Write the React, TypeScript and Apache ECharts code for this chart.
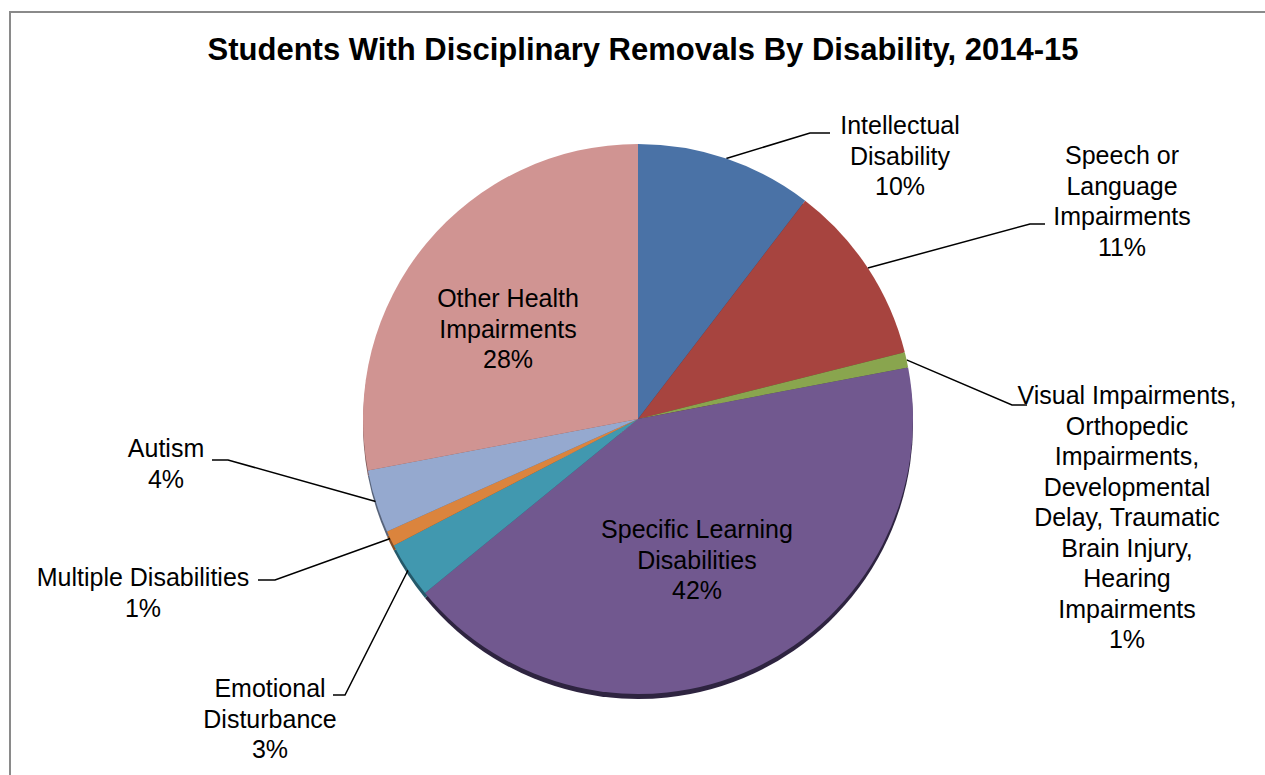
import React, { useEffect, useRef } from "react";
import * as echarts from "echarts";

const TITLE = "Students With Disciplinary Removals By Disability, 2014-15";

const categories = [
  "Intellectual\nDisability",
  "Speech or\nLanguage\nImpairments",
  "Visual Impairments,\nOrthopedic\nImpairments,\nDevelopmental\nDelay, Traumatic\nBrain Injury,\nHearing\nImpairments",
  "Specific Learning\nDisabilities",
  "Emotional\nDisturbance",
  "Multiple Disabilities",
  "Autism",
  "Other Health\nImpairments",
];

const values = [10.4, 10.7, 0.9, 42.1, 3.3, 0.9, 3.7, 28.0];

const colors = ["#4A72A6", "#A7443F", "#89A54E", "#71588F", "#4198AF", "#DB843D", "#95A9CF", "#D09492"];
const rimColors = ["#2B4466", "#642826", "#50602D", "#2E2440", "#24596A", "#844E24", "#57637A", "#7C5756"];

// label placement: [centerX, topY] and leader elbow/end points (layout, not data)
const labelPos: Record<number, { x: number; y: number; line?: number[][] }> = {
  0: { x: 900, y: 110, line: [[810, 133], [830, 133]] },
  1: { x: 1122, y: 140, line: [[1030, 224], [1045, 224]] },
  2: { x: 1127, y: 380, line: [[1012, 405], [1027, 405]] },
  3: { x: 697, y: 514 },
  4: { x: 270, y: 673, line: [[345, 695], [333, 695]] },
  5: { x: 143, y: 562, line: [[275, 580], [258, 580]] },
  6: { x: 166, y: 433, line: [[228, 460], [212, 460]] },
  7: { x: 508, y: 283 },
};
const insideIdx = [3, 7];

const FONT = "'Liberation Sans', Arial, sans-serif";

export default function App() {
  const ref = useRef<HTMLDivElement>(null);
  useEffect(() => {
    if (!ref.current) return;
    const chart = echarts.init(ref.current, undefined, { renderer: "svg" });
    const data = categories.map((name, i) => ({
      name,
      value: values[i],
      itemStyle: { color: colors[i] },
      label: insideIdx.includes(i) ? { position: "inside" } : { position: "outside" },
      labelLine: { show: !insideIdx.includes(i) },
    }));
    const rimData = categories.map((name, i) => ({
      name,
      value: values[i],
      itemStyle: { color: rimColors[i] },
    }));
    chart.setOption({
      animation: false,
      backgroundColor: "#ffffff",
      title: {
        text: TITLE,
        left: 638,
        top: 29,
        textAlign: "center",
        textStyle: { fontFamily: FONT, fontSize: 31, fontWeight: "bold", color: "#000" },
      },
      graphic: [
        {
          type: "rect",
          shape: { x: 10, y: 12, width: 1300, height: 800 },
          style: { fill: "none", stroke: "#8a8a8a", lineWidth: 2 },
          silent: true,
          z: -10,
        },
      ],
      series: [
        {
          type: "pie",
          center: [638, 424],
          radius: 275,
          startAngle: 90,
          silent: true,
          z: 1,
          label: { show: false },
          labelLine: { show: false },
          data: rimData,
        },
        {
          type: "pie",
          center: [638, 419],
          radius: 275,
          startAngle: 90,
          z: 2,
          itemStyle: { borderWidth: 0 },
          label: {
            show: true,
            fontFamily: FONT,
            fontSize: 25,
            lineHeight: 30.5,
            color: "#000",
            align: "center",
            formatter: (p: any) => `${p.name}\n${Math.round(p.value)}%`,
          },
          labelLine: {
            show: true,
            length: 20,
            length2: 10,
            lineStyle: { color: "#000", width: 1.5 },
          },
          labelLayout: (params: any) => {
            const pos = labelPos[params.dataIndex];
            const out: any = {
              x: pos.x,
              y: pos.y,
              align: "center",
              verticalAlign: "top",
            };
            if (pos.line && params.labelLinePoints) {
              out.labelLinePoints = [params.labelLinePoints[0], pos.line[0], pos.line[1]];
            }
            return out;
          },
          data,
        },
      ],
    });
    return () => chart.dispose();
  }, []);
  return (
    <div
      ref={ref}
      style={{ position: "fixed", left: 0, top: 0, width: 1265, height: 775 }}
    />
  );
}
